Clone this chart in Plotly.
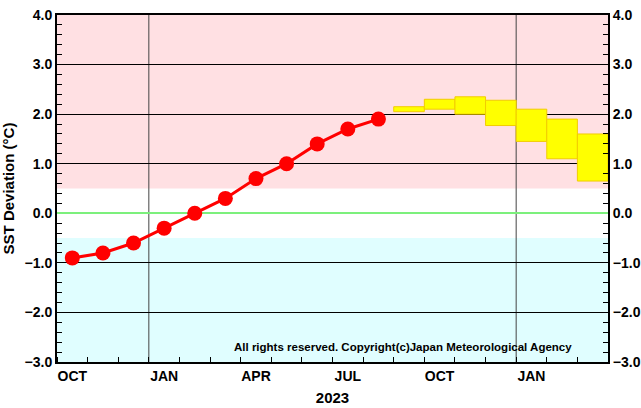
import plotly.graph_objects as go

# Observed monthly SST deviation (Oct 2022 - Aug 2023)
obs_months = ["2022-10", "2022-11", "2022-12", "2023-01", "2023-02", "2023-03",
              "2023-04", "2023-05", "2023-06", "2023-07", "2023-08"]
obs_values = [-0.9, -0.8, -0.6, -0.3, 0.0, 0.3, 0.7, 1.0, 1.4, 1.7, 1.9]

# Forecast range (Sep 2023 - Mar 2024): lower / upper bounds
fc_months = ["2023-09", "2023-10", "2023-11", "2023-12", "2024-01", "2024-02", "2024-03"]
fc_low = [2.05, 2.1, 2.0, 1.77, 1.45, 1.1, 0.65]
fc_high = [2.15, 2.3, 2.35, 2.28, 2.1, 1.9, 1.6]

# Axis labelling
all_months = obs_months + fc_months
tick_months = ["2022-10", "2023-01", "2023-04", "2023-07", "2023-10", "2024-01"]
tick_text = ["OCT", "JAN", "APR", "JUL", "OCT", "JAN"]
year_starts = ["2023-01", "2024-01"]
year_title = "2023"


def pos(m):
    # month index -> centre of its slot on a numeric axis
    return all_months.index(m) + 0.5


FONT = "Liberation Sans, Arial, sans-serif"

fig = go.Figure()

fig.add_trace(go.Bar(
    x=[pos(m) for m in fc_months],
    y=[h - l for l, h in zip(fc_low, fc_high)],
    base=fc_low,
    width=1.0,
    marker=dict(color="#FFFF00", line=dict(color="#F2CC00", width=1)),
    hoverinfo="skip",
    showlegend=False,
))

fig.add_trace(go.Scatter(
    x=[pos(m) for m in obs_months],
    y=obs_values,
    mode="lines+markers",
    line=dict(color="#FF0000", width=3),
    marker=dict(color="#FF0000", size=15),
    showlegend=False,
))

# invisible trace so the right-hand axis is rendered
fig.add_trace(go.Scatter(x=[0.5], y=[0], yaxis="y2", mode="markers",
                         marker=dict(opacity=0), showlegend=False, hoverinfo="skip"))

# anomaly bands
fig.add_hrect(y0=0.5, y1=4, fillcolor="#FFE0E3", line_width=0, layer="below")
fig.add_hrect(y0=-3, y1=-0.5, fillcolor="#E0FEFF", line_width=0, layer="below")

# year boundary lines
for ys in year_starts:
    xv = all_months.index(ys)
    fig.add_shape(type="line", x0=xv, x1=xv, y0=0, y1=1, xref="x", yref="paper",
                  line=dict(color="#444444", width=1), layer="below")

n = len(all_months)
tickfont = dict(family=FONT, size=14, color="black", weight="bold")

yaxis_common = dict(
    range=[-3, 4], dtick=1, tick0=0, tickformat=".1f",
    ticks="inside", ticklen=0, tickfont=tickfont, automargin=False,
    showline=True, linecolor="black", linewidth=2,
    minor=dict(dtick=0.2, tick0=0, ticks="inside", ticklen=5,
               tickcolor="black", tickwidth=1, showgrid=False),
)

fig.update_layout(
    width=641, height=408,
    margin=dict(l=57, r=33, t=15, b=46, autoexpand=False),
    paper_bgcolor="white", plot_bgcolor="white",
    barmode="overlay",
    font=dict(family=FONT, color="black"),
    xaxis=dict(
        range=[0, n], automargin=False,
        tickvals=[pos(m) for m in tick_months], ticktext=tick_text,
        ticks="", tickfont=tickfont,
        showgrid=False, zeroline=False,
        showline=True, linecolor="black", linewidth=2, mirror=True,
        minor=dict(tickmode="linear", tick0=0, dtick=1, ticks="inside",
                   ticklen=5, tickcolor="black", tickwidth=1, showgrid=False),
        title=dict(text=year_title, font=dict(family=FONT, size=15, weight="bold"),
                   standoff=10),
    ),
    yaxis=dict(
        **yaxis_common,
        showgrid=True, gridcolor="black", gridwidth=1,
        zeroline=True, zerolinecolor="#7CF07C", zerolinewidth=1.5,
        title=dict(text="SST Deviation (°C)",
                   font=dict(family=FONT, size=15, weight="bold"), standoff=6),
    ),
    yaxis2=dict(
        **yaxis_common,
        overlaying="y", side="right",
        showgrid=False, zeroline=False,
    ),
    annotations=[dict(
        text="All rights reserved. Copyright(c)Japan Meteorological Agency",
        x=403, y=-2.85, xref="x domain", yref="y", showarrow=False,
        yanchor="bottom", xanchor="center",
        font=dict(family=FONT, size=11.5, color="black", weight="bold"),
    )],
)
# place the credit line in pixel terms across the plot width
fig.layout.annotations[0].x = (403 - 57) / (641 - 57 - 33)

fig.write_html("out.html")
